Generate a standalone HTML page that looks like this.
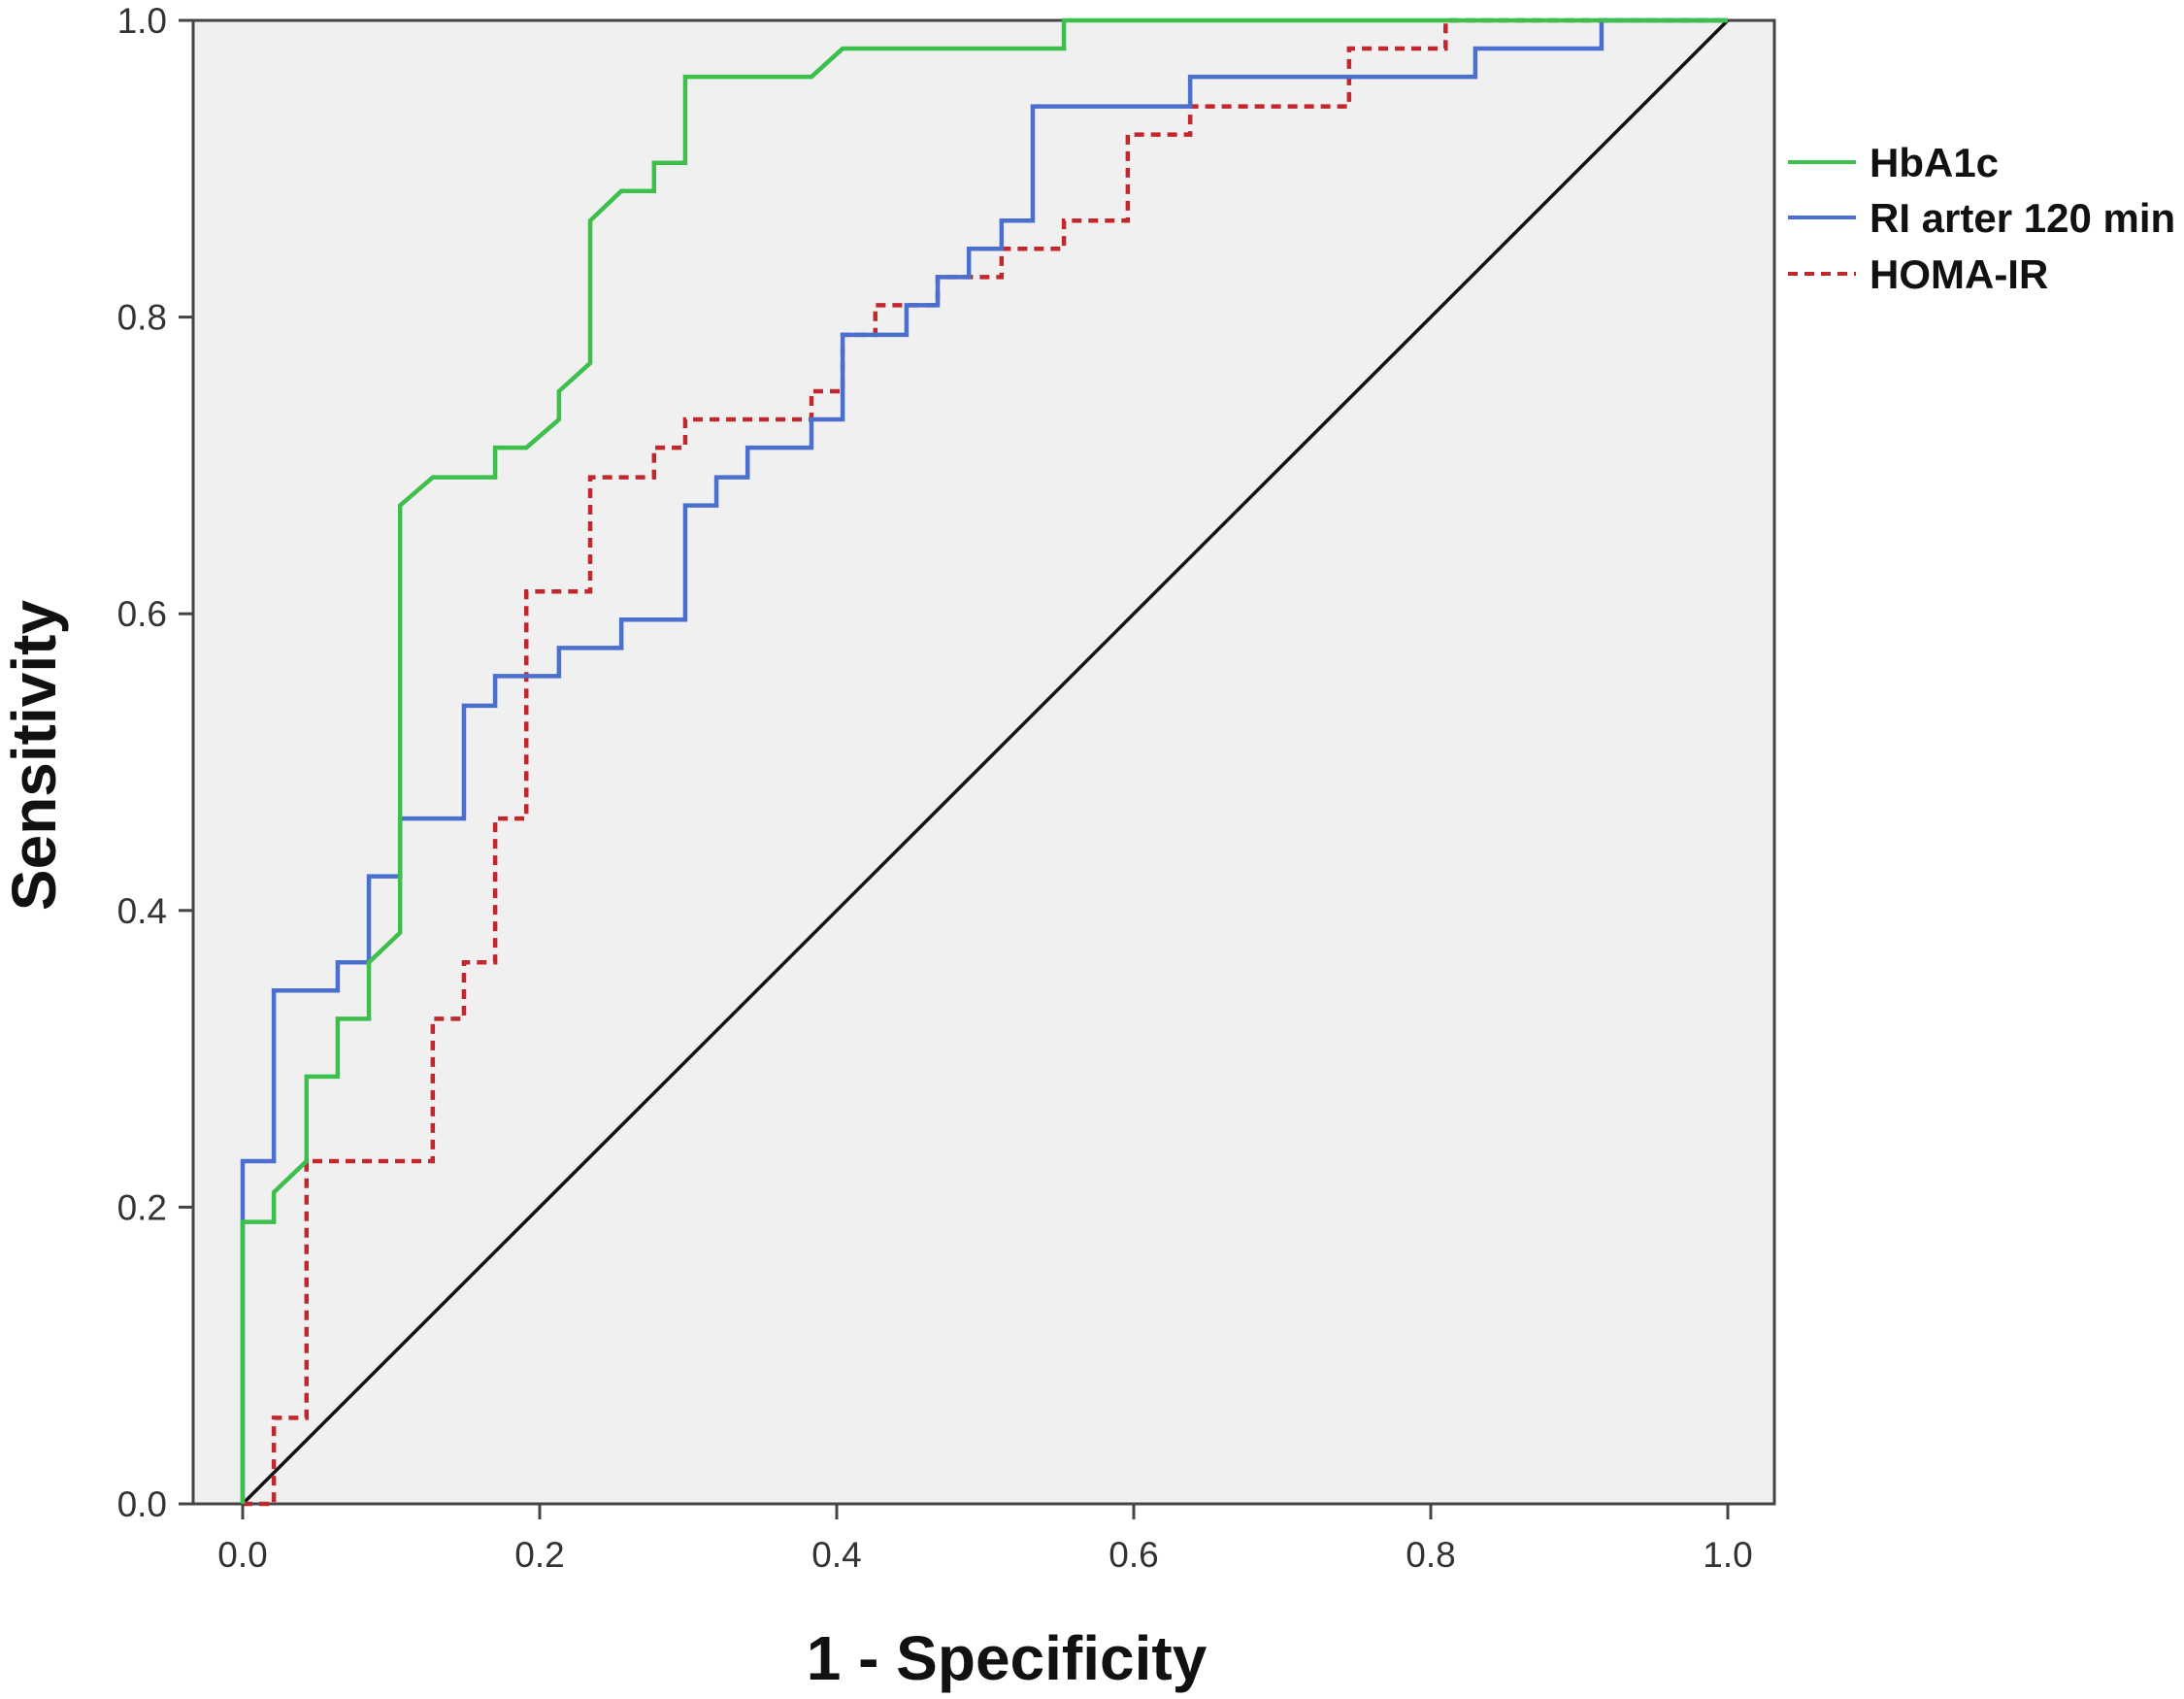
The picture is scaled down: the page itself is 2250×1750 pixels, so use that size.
<!DOCTYPE html>
<html><head><meta charset="utf-8">
<style>
html,body{margin:0;padding:0;background:#fff;}
svg{display:block;font-family:"Liberation Sans",Arial,sans-serif;}
</style></head>
<body>
<svg id="chart" width="2250" height="1750" viewBox="0 0 2250 1750" xmlns="http://www.w3.org/2000/svg">
  <rect x="199" y="21" width="1629" height="1528" fill="#f0f0f0" stroke="#444" stroke-width="3"/>
  <g id="grid"></g>
  <g id="series"></g>
  <g id="axes"></g>
  <text x="1037" y="1730" font-size="64" font-weight="bold" text-anchor="middle" fill="#111">1 - Specificity</text>
  <text transform="translate(57,778) rotate(-90)" font-size="64" font-weight="bold" text-anchor="middle" fill="#111">Sensitivity</text>
  <g>
    <line x1="1842" y1="167" x2="1912" y2="167" stroke="#3dbf4c" stroke-width="4"/>
    <text x="1926" y="182" font-size="42" font-weight="bold" fill="#111">HbA1c</text>
    <line x1="1842" y1="224" x2="1912" y2="224" stroke="#4a6fcf" stroke-width="4"/>
    <text x="1926" y="239" font-size="42" font-weight="bold" fill="#111">RI arter 120 min</text>
    <line x1="1842" y1="282" x2="1912" y2="282" stroke="#c0282d" stroke-width="4" stroke-dasharray="10,7"/>
    <text x="1926" y="297" font-size="42" font-weight="bold" fill="#111">HOMA-IR</text>
  </g>
</svg>
<script>
const tickValues = [0, 0.2, 0.4, 0.6, 0.8, 1.0];
const tickLabels = ["0.0", "0.2", "0.4", "0.6", "0.8", "1.0"];
const hbaX = [0,0,0.021,0.021,0.043,0.043,0.064,0.064,0.085,0.085,0.106,0.106,0.128,0.17,0.17,0.191,0.213,0.213,0.234,0.234,0.255,0.277,0.277,0.298,0.298,0.383,0.404,0.553,0.553,1];
const hbaY = [0,0.19,0.19,0.21,0.231,0.288,0.288,0.327,0.327,0.365,0.385,0.673,0.692,0.692,0.712,0.712,0.731,0.75,0.769,0.865,0.885,0.885,0.904,0.904,0.962,0.962,0.981,0.981,1,1];
const riX = [0,0,0.021,0.021,0.064,0.064,0.085,0.085,0.106,0.106,0.149,0.149,0.17,0.17,0.213,0.213,0.255,0.255,0.298,0.298,0.319,0.319,0.34,0.34,0.383,0.383,0.404,0.404,0.447,0.447,0.468,0.468,0.489,0.489,0.511,0.511,0.532,0.532,0.638,0.638,0.83,0.83,0.915,0.915,1];
const riY = [0,0.231,0.231,0.346,0.346,0.365,0.365,0.423,0.423,0.462,0.462,0.538,0.538,0.558,0.558,0.577,0.577,0.596,0.596,0.673,0.673,0.692,0.692,0.712,0.712,0.731,0.731,0.788,0.788,0.808,0.808,0.827,0.827,0.846,0.846,0.865,0.865,0.942,0.942,0.962,0.962,0.981,0.981,1,1];
const homaX = [0,0.021,0.021,0.043,0.043,0.128,0.128,0.149,0.149,0.17,0.17,0.191,0.191,0.234,0.234,0.277,0.277,0.298,0.298,0.383,0.383,0.404,0.404,0.426,0.426,0.468,0.468,0.511,0.511,0.553,0.553,0.596,0.596,0.638,0.638,0.745,0.745,0.81,0.81,1];
const homaY = [0,0,0.058,0.058,0.231,0.231,0.327,0.327,0.365,0.365,0.462,0.462,0.615,0.615,0.692,0.692,0.712,0.712,0.731,0.731,0.75,0.75,0.788,0.788,0.808,0.808,0.827,0.827,0.846,0.846,0.865,0.865,0.923,0.923,0.942,0.942,0.981,0.981,1,1];

const NS = "http://www.w3.org/2000/svg";
function sx(v){ return 250 + v * 1530; }
function sy(v){ return 1549 - v * 1528; }
function pts(xs, ys){ return xs.map((x,i)=>sx(x)+","+sy(ys[i])).join(" "); }

const axes = document.getElementById("axes");
tickValues.forEach((v,i)=>{
  const tx = document.createElementNS(NS,"line");
  
  
  tx.setAttribute("x1", sx(v)); tx.setAttribute("x2", sx(v));
  tx.setAttribute("y1", 1549); tx.setAttribute("y2", 1565);
  tx.setAttribute("stroke", "#444"); tx.setAttribute("stroke-width", "3");
  axes.appendChild(tx);
  const lx = document.createElementNS(NS,"text");
  
  
  lx.setAttribute("x", sx(v)); lx.setAttribute("y", 1614);
  lx.setAttribute("text-anchor", "middle"); lx.setAttribute("font-size", "37"); lx.setAttribute("fill", "#333");
  lx.textContent = tickLabels[i];
  axes.appendChild(lx);
  const ty = document.createElementNS(NS,"line");
  
  
  ty.setAttribute("x1", 184); ty.setAttribute("x2", 199);
  ty.setAttribute("y1", sy(v)); ty.setAttribute("y2", sy(v));
  ty.setAttribute("stroke", "#444"); ty.setAttribute("stroke-width", "3");
  axes.appendChild(ty);
  const ly = document.createElementNS(NS,"text");
  
  
  ly.setAttribute("x", 172); ly.setAttribute("y", sy(v) + 13);
  ly.setAttribute("text-anchor", "end"); ly.setAttribute("font-size", "37"); ly.setAttribute("fill", "#333");
  ly.textContent = tickLabels[i];
  axes.appendChild(ly);
});

const series = document.getElementById("series");
const diag = document.createElementNS(NS,"line");


diag.setAttribute("x1", sx(0)); diag.setAttribute("y1", sy(0));
diag.setAttribute("x2", sx(1)); diag.setAttribute("y2", sy(1));
diag.setAttribute("stroke", "#111"); diag.setAttribute("stroke-width", "3.5");
series.appendChild(diag);

const homa = document.createElementNS(NS,"polyline");


homa.setAttribute("points", pts(homaX, homaY));
homa.setAttribute("fill", "none"); homa.setAttribute("stroke", "#c0282d");
homa.setAttribute("stroke-width", "4.5"); homa.setAttribute("stroke-dasharray", "10,7");
series.appendChild(homa);

const ri = document.createElementNS(NS,"polyline");


ri.setAttribute("points", pts(riX, riY));
ri.setAttribute("fill", "none"); ri.setAttribute("stroke", "#4a6fcf"); ri.setAttribute("stroke-width", "4.5");
series.appendChild(ri);

const hba = document.createElementNS(NS,"polyline");


hba.setAttribute("points", pts(hbaX, hbaY));
hba.setAttribute("fill", "none"); hba.setAttribute("stroke", "#3dbf4c"); hba.setAttribute("stroke-width", "4.5");
series.appendChild(hba);
</script>
</body></html>
